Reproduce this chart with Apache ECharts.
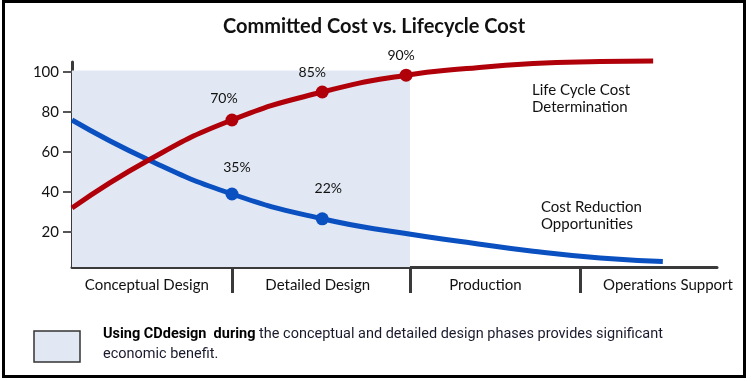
<!DOCTYPE html>
<html>
<head>
<meta charset="utf-8">
<script src="https://cdn.jsdelivr.net/npm/echarts@6/dist/echarts.min.js"></script>
<style>
html,body{margin:0;padding:0;background:#fff;}
#chart{width:752px;height:381px;}
</style>
</head>
<body>
<div id="chart"></div>
<script>
// ---- data ----
const titleText = 'Committed Cost vs. Lifecycle Cost';
const phases = ['Conceptual Design', 'Detailed Design', 'Production', 'Operations Support'];
const phaseBounds = [0, 24.8, 52.4, 78.8, 100];           // lifecycle progress (%)
const yTickValues = [20, 40, 60, 80, 100];

const lccX = [0, 11.9, 24.8, 38.8, 51.8, 61.2, 71.5, 81.9, 90.1];
const lccY = [32, 56, 76, 90, 98.4, 101.7, 104.2, 105.2, 105.5];
const lccMarkerIdx = [2, 3, 4];
const lccMarkerLabels = ['70%', '85%', '90%'];

const crX = [0, 11.9, 24.8, 38.8, 51.0, 61.2, 71.5, 81.9, 91.6];
const crY = [76, 56, 39, 26.6, 19.6, 14.9, 10.4, 7.0, 5.3];
const crMarkerIdx = [2, 3];
const crMarkerLabels = ['35%', '22%'];

const lccName = 'Life Cycle Cost\nDetermination';
const crName = 'Cost Reduction\nOpportunities';
const noteBold = 'Using CDdesign  during';
const noteLine1 = ' the conceptual and detailed design phases provides significant';
const noteLine2 = 'economic benefit.';
const shadedPhases = 2; // conceptual + detailed design

// ---- chart ----
const FONT = 'Lato';
const NOTE_FONT = 'Roboto';
const RED = '#b0000a';
const BLUE = '#0a50c0';
const SHADE = '#e2e8f3';
const AX = '#3a3a3a';

const chart = echarts.init(document.getElementById('chart'), null, {renderer: 'canvas'});

const grid = {left: 72, right: 35, top: 62, bottom: 114};
const gridWidth = 752 - grid.left - grid.right;

const lccData = lccX.map((x, i) => [x, lccY[i]]);
const crData = crX.map((x, i) => [x, crY[i]]);

const labelNudge = [-0.8, -0.5, -1.5, 3.0];
const phaseLabelAt = phases.map((p, i) => (phaseBounds[i] + phaseBounds[i + 1]) / 2 + labelNudge[i]);

const lccOffsets = [[-8, -3], [-10, -1.5], [-5, -1]];
const crOffsets = [[5, -8.5], [6, -11.5]];

const yMin = 2.5, yMax = 105;

// condensed note text: compress a regular font horizontally to the reference width
const mctx = document.createElement('canvas').getContext('2d');
mctx.font = 'bold 15px ' + NOTE_FONT;
const wBold = mctx.measureText(noteBold).width;
mctx.font = '15px ' + NOTE_FONT;
const wRest = mctx.measureText(noteLine1).width;
const noteScale = 560 / (wBold + wRest);

const option = {
  animation: false,
  backgroundColor: '#fff',
  title: {
    text: titleText,
    left: 218,
    top: 12,
    textStyle: {fontFamily: FONT, fontSize: 20, fontWeight: 'bold', color: '#111'}
  },
  grid: grid,
  xAxis: {
    type: 'value',
    min: 0,
    max: 100,
    axisLine: {show: true, lineStyle: {color: AX, width: 3}},
    axisTick: {show: true, customValues: phaseBounds.slice(1, -1), length: 26, lineStyle: {color: AX, width: 3}},
    axisLabel: {
      show: true,
      customValues: phaseLabelAt,
      margin: 11,
      fontFamily: FONT,
      fontSize: 15,
      color: '#111',
      formatter: function (v) {
        let best = 0, bd = Infinity;
        phaseLabelAt.forEach((p, i) => { const d = Math.abs(p - v); if (d < bd) { bd = d; best = i; } });
        return phases[best];
      }
    },
    splitLine: {show: false}
  },
  yAxis: [
    {
      type: 'value',
      min: yMin,
      max: yMax,
      position: 'left',
      axisLine: {show: true, lineStyle: {color: AX, width: 3}},
      axisTick: {show: true, customValues: yTickValues, length: 9, lineStyle: {color: '#555', width: 2}},
      axisLabel: {show: true, customValues: yTickValues, margin: 13, fontFamily: FONT, fontSize: 15, color: '#111'},
      splitLine: {show: false}
    },
    {
      type: 'value',
      min: yMin,
      max: yMax,
      position: 'right',
      offset: -gridWidth,
      axisLine: {show: false},
      axisTick: {show: true, customValues: yTickValues, length: 10, lineStyle: {color: '#555', width: 2}},
      axisLabel: {show: false},
      splitLine: {show: false}
    }
  ],
  series: [
    {
      type: 'line',
      z: 1,
      data: [[0, yMin]],
      symbol: 'none',
      lineStyle: {opacity: 0},
      silent: true,
      markArea: {
        silent: true,
        itemStyle: {color: SHADE},
        data: [[{xAxis: phaseBounds[0], yAxis: yMin}, {xAxis: phaseBounds[shadedPhases], yAxis: 100.8}]]
      }
    },
    {
      name: crName,
      type: 'line',
      z: 3,
      data: crData,
      smooth: 0.5,
      showSymbol: false,
      clip: false,
      lineStyle: {color: BLUE, width: 5},
      itemStyle: {color: BLUE}
    },
    {
      name: lccName,
      type: 'line',
      z: 3,
      data: lccData,
      smooth: 0.5,
      showSymbol: false,
      clip: false,
      lineStyle: {color: RED, width: 5},
      itemStyle: {color: RED}
    },
    {
      type: 'scatter',
      z: 4,
      symbolSize: 13,
      itemStyle: {color: BLUE, opacity: 1},
      clip: false,
      data: crMarkerIdx.map((idx, i) => ({
        value: crData[idx],
        label: {show: true, position: 'top', offset: crOffsets[i], formatter: crMarkerLabels[i],
          fontFamily: FONT, fontSize: 14, color: '#111'}
      }))
    },
    {
      type: 'scatter',
      z: 4,
      symbolSize: 13,
      itemStyle: {color: RED, opacity: 1},
      clip: false,
      data: lccMarkerIdx.map((idx, i) => ({
        value: lccData[idx],
        label: {show: true, position: 'top', offset: lccOffsets[i], formatter: lccMarkerLabels[i],
          fontFamily: FONT, fontSize: 14, color: '#111'}
      }))
    }
  ],
  graphic: [
    {
      type: 'rect',
      shape: {x: 3.5, y: 1.5, width: 741, height: 375},
      style: {fill: 'none', stroke: '#000', lineWidth: 3},
      z: 10
    },
    {
      type: 'text',
      x: 532, y: 81.5,
      style: {text: lccName, fontFamily: FONT, fontSize: 15, lineHeight: 17, fill: '#111', verticalAlign: 'top', align: 'left'}
    },
    {
      type: 'text',
      x: 541, y: 198,
      style: {text: crName, fontFamily: FONT, fontSize: 15, lineHeight: 17.6, fill: '#111', verticalAlign: 'top', align: 'left'}
    },
    {
      type: 'rect',
      shape: {x: 34, y: 331, width: 46, height: 31},
      style: {fill: SHADE, stroke: '#333', lineWidth: 1.5}
    },
    {
      type: 'text',
      x: 103, y: 324.5,
      scaleX: noteScale,
      style: {
        text: '{b|' + noteBold + '}' + noteLine1 + '\n' + noteLine2,
        fontFamily: NOTE_FONT,
        fontSize: 15,
        lineHeight: 19.5,
        fill: '#1a1a2e',
        verticalAlign: 'top',
        align: 'left',
        rich: {
          b: {fontFamily: NOTE_FONT, fontSize: 15, fontWeight: 'bold', fill: '#000', lineHeight: 19.5}
        }
      }
    }
  ]
};

chart.setOption(option);
</script>
</body>
</html>
